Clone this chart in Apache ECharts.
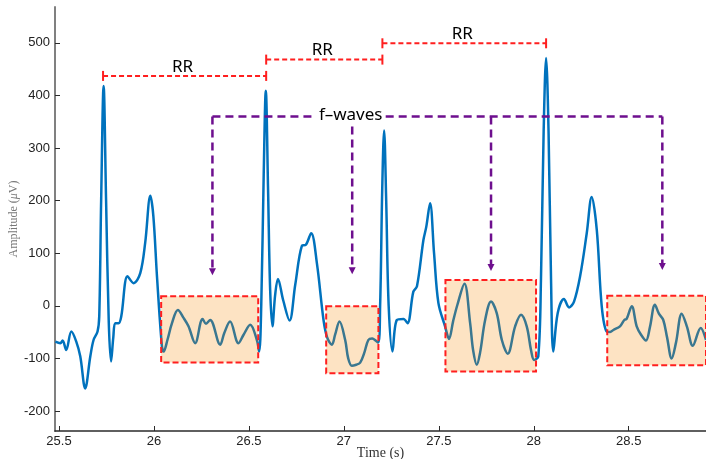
<!DOCTYPE html>
<html>
<head>
<meta charset="utf-8">
<title>ECG segment with RR intervals and f-waves</title>
<script src="https://cdn.jsdelivr.net/npm/echarts@6/dist/echarts.min.js"></script>
<style>
  html, body { margin: 0; padding: 0; background: #fff; }
  #chart { width: 706px; height: 459px; }
</style>
</head>
<body>
<div id="chart"></div>
<script>
// ECG trace: [time (s), amplitude (µV)]
const ecgSamples = [
  [25.481, -68], [25.507, -71], [25.519, -66], [25.538, -84], [25.565, -49],
  [25.591, -68], [25.612, -96], [25.638, -157], [25.665, -96], [25.682, -65],
  [25.703, -49], [25.712, -20], [25.722, 200], [25.735, 418], [25.748, 200],
  [25.762, -30], [25.774, -106], [25.786, -60], [25.796, -33], [25.814, -33],
  [25.828, -20], [25.861, 56], [25.893, 43], [25.928, 62], [25.954, 120],
  [25.981, 209], [25.997, 170], [26.016, 56], [26.042, -77], [26.051, -87],
  [26.071, -65], [26.095, -33], [26.126, -8], [26.156, -23], [26.182, -39],
  [26.217, -71], [26.256, -25], [26.274, -34], [26.296, -27], [26.349, -74],
  [26.370, -52], [26.401, -30], [26.445, -71], [26.472, -55], [26.507, -36],
  [26.542, -65], [26.554, -87], [26.565, 0], [26.578, 250], [26.589, 409],
  [26.601, 220], [26.612, 30], [26.624, -39], [26.638, 20], [26.653, 51],
  [26.681, 10], [26.714, -28], [26.744, 40], [26.779, 114], [26.800, 116],
  [26.828, 138], [26.858, 81], [26.893, -27], [26.912, -60], [26.937, -74],
  [26.954, -55], [26.977, -30], [27.007, -65], [27.023, -100], [27.042, -114],
  [27.065, -112], [27.086, -108], [27.107, -90], [27.129, -65], [27.149, -62],
  [27.180, -70], [27.191, 0], [27.202, 220], [27.212, 333], [27.223, 200],
  [27.236, 0], [27.256, -87], [27.279, -27], [27.314, -25], [27.335, -33],
  [27.366, 27], [27.385, 37], [27.419, 125], [27.434, 150], [27.454, 195],
  [27.475, 100], [27.498, 5], [27.533, -39], [27.554, -63], [27.575, -30],
  [27.598, 2], [27.635, 42], [27.665, -33], [27.681, -85], [27.700, -112],
  [27.717, -90], [27.744, -27], [27.775, 8], [27.805, -14], [27.832, -65],
  [27.863, -91], [27.902, -39], [27.933, -17], [27.963, -39], [27.986, -85],
  [28.002, -103], [28.024, -96], [28.038, 50], [28.052, 330], [28.065, 471],
  [28.078, 330], [28.091, 50], [28.103, -87], [28.126, -14], [28.159, 13],
  [28.186, -3], [28.212, 8], [28.244, 56], [28.279, 138], [28.305, 207],
  [28.332, 144], [28.358, -1], [28.384, -49], [28.402, -50], [28.419, -46],
  [28.454, -39], [28.477, -27], [28.489, -25], [28.516, -1], [28.542, -39],
  [28.565, -55], [28.591, -66], [28.612, -40], [28.638, 2], [28.659, -15],
  [28.682, -27], [28.702, -60], [28.726, -100], [28.749, -70], [28.779, -15],
  [28.807, -40], [28.837, -76], [28.879, -42], [28.907, -65]
];

// Axis ticks
const timeTicks = [25.5, 26, 26.5, 27, 27.5, 28, 28.5];
const amplitudeTicks = [-200, -100, 0, 100, 200, 300, 400, 500];

// Highlighted f-wave windows (TQ segments)
const boxStart = [26.038, 26.907, 27.535, 28.387];
const boxEnd = [26.549, 27.182, 28.012, 28.907];
const boxTop = [18, -1, 49, 19];
const boxBottom = [-108, -128, -125, -113];

// RR intervals between successive R peaks
const rrStart = [25.732, 26.591, 27.203];
const rrEnd = [26.591, 27.203, 28.065];
const rrLevel = [437, 468, 499];
const rrLabel = 'RR';

// f-wave pointer lines
const fwaveLevel = 360;
const fwaveLabelTime = 27.036;
const fwaveDropTimes = [26.308, 27.044, 27.775, 28.677];
const fwaveArrowTips = [58, 60, 66, 68];
const fwaveLabel = 'f–waves';

const RED = '#ff1f1f';
const PURPLE = '#6e0f8e';

const chart = echarts.init(document.getElementById('chart'), null, { renderer: 'canvas' });

function renderBox(params, api) {
  const p0 = api.coord([api.value(0), api.value(2)]);
  const p1 = api.coord([api.value(1), api.value(3)]);
  return {
    type: 'rect',
    shape: { x: p0[0], y: p0[1], width: p1[0] - p0[0], height: p1[1] - p0[1] },
    style: {
      fill: 'rgba(247,136,0,0.235)',
      stroke: RED,
      lineWidth: 2,
      lineDash: [6, 3]
    }
  };
}

function renderRR(params, api) {
  const a = api.coord([api.value(0), api.value(2)]);
  const b = api.coord([api.value(1), api.value(2)]);
  const cap = 5;
  return {
    type: 'group',
    children: [
      { type: 'line', shape: { x1: a[0], y1: a[1], x2: b[0], y2: b[1] },
        style: { stroke: RED, lineWidth: 2, lineDash: [5, 3] } },
      { type: 'line', shape: { x1: a[0], y1: a[1] - cap, x2: a[0], y2: a[1] + cap },
        style: { stroke: RED, lineWidth: 2 } },
      { type: 'line', shape: { x1: b[0], y1: b[1] - cap, x2: b[0], y2: b[1] + cap },
        style: { stroke: RED, lineWidth: 2 } },
      { type: 'text', x: (a[0] + b[0]) / 2 - 2, y: a[1] - 9,
        style: { text: rrLabel, fill: '#000', font: '17px "Noto Sans"',
                 align: 'center', verticalAlign: 'middle' } }
    ]
  };
}

function renderFwave(params, api) {
  const i = params.dataIndex;
  const top = api.coord([api.value(0), fwaveLevel]);
  const tip = api.coord([api.value(0), api.value(1)]);
  const label = api.coord([fwaveLabelTime, fwaveLevel]);
  const underLabel = Math.abs(top[0] - label[0]) < 20;
  const lineStyle = { stroke: PURPLE, lineWidth: 2.5, lineDash: [8, 5] };
  const children = [
    { type: 'line',
      shape: { x1: top[0], y1: underLabel ? top[1] + 10 : top[1], x2: tip[0], y2: tip[1] - 5 },
      style: lineStyle },
    { type: 'polygon',
      shape: { points: [[tip[0] - 3.5, tip[1] - 7], [tip[0] + 3.5, tip[1] - 7], [tip[0], tip[1]]] },
      style: { fill: PURPLE } }
  ];
  if (i === 0) {
    const last = api.coord([fwaveDropTimes[fwaveDropTimes.length - 1], fwaveLevel]);
    children.push(
      { type: 'line', shape: { x1: top[0], y1: top[1], x2: label[0] - 38, y2: top[1] }, style: lineStyle },
      { type: 'line', shape: { x1: label[0] + 35, y1: top[1], x2: last[0], y2: top[1] }, style: lineStyle },
      { type: 'text', x: label[0], y: label[1] - 1,
        style: { text: fwaveLabel, fill: '#000', font: '17px "Noto Sans"',
                 align: 'center', verticalAlign: 'middle' } }
    );
  }
  return { type: 'group', children: children };
}

const option = {
  animation: false,
  backgroundColor: '#fff',
  grid: { left: 55, right: 0, top: 7, bottom: 28, containLabel: false, outerBoundsMode: 'none' },
  xAxis: {
    type: 'value',
    min: 25.479,
    max: 28.907,
    name: 'Time (s)',
    nameLocation: 'middle',
    nameGap: 15,
    nameMoveOverlap: false,
    nameTextStyle: { fontFamily: 'Liberation Serif', fontSize: 14, color: '#333' },
    axisLine: { show: true, onZero: false, lineStyle: { color: '#2b2b2b', width: 1.5 } },
    axisTick: { show: true, inside: true, length: 5, customValues: timeTicks,
                lineStyle: { color: '#2b2b2b', width: 1 } },
    axisLabel: { customValues: timeTicks, margin: 4, color: '#222',
                 fontFamily: 'Liberation Sans', fontSize: 13,
                 formatter: v => String(v) },
    splitLine: { show: false }
  },
  yAxis: {
    type: 'value',
    min: -238,
    max: 568,
    name: 'Amplitude ({i|μ}V)',
    nameLocation: 'middle',
    nameGap: 35,
    nameMoveOverlap: false,
    nameRotate: 90,
    nameTextStyle: {
      fontFamily: 'Liberation Serif', fontSize: 12, color: '#777',
      rich: { i: { fontFamily: 'Liberation Serif', fontSize: 12, color: '#777', fontStyle: 'italic' } }
    },
    axisLine: { show: true, onZero: false, lineStyle: { color: '#808080', width: 2 } },
    axisTick: { show: true, inside: true, length: 5, customValues: amplitudeTicks,
                lineStyle: { color: '#2b2b2b', width: 1 } },
    axisLabel: { customValues: amplitudeTicks, margin: 5, color: '#222',
                 fontFamily: 'Liberation Sans', fontSize: 13 },
    splitLine: { show: false }
  },
  series: [
    {
      name: 'ECG',
      type: 'line',
      data: ecgSamples,
      smooth: 0.35,
      showSymbol: false,
      z: 2,
      lineStyle: { color: '#0072bd', width: 2.5 },
      clip: true
    },
    {
      name: 'f-wave windows',
      type: 'custom',
      z: 3,
      renderItem: renderBox,
      encode: { x: [0, 1], y: [2, 3] },
      data: boxStart.map((s, i) => [s, boxEnd[i], boxTop[i], boxBottom[i]])
    },
    {
      name: 'RR intervals',
      type: 'custom',
      z: 4,
      renderItem: renderRR,
      encode: { x: [0, 1], y: 2 },
      data: rrStart.map((s, i) => [s, rrEnd[i], rrLevel[i]])
    },
    {
      name: 'f-wave pointers',
      type: 'custom',
      z: 4,
      renderItem: renderFwave,
      encode: { x: 0, y: 1 },
      data: fwaveDropTimes.map((t, i) => [t, fwaveArrowTips[i]])
    }
  ]
};

chart.setOption(option);
</script>
</body>
</html>
